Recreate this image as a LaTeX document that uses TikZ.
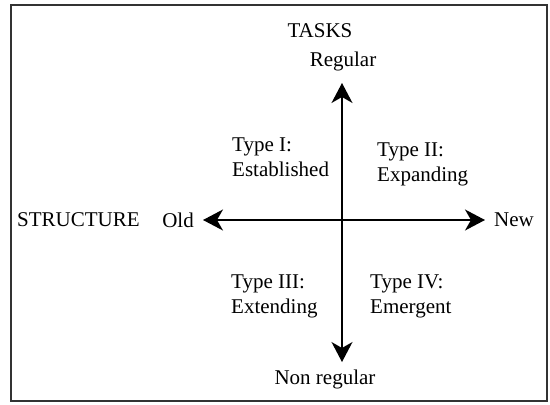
\documentclass[tikz,border=0pt]{standalone}
\usepackage{fontspec}
\setmainfont{Liberation Serif}
\usetikzlibrary{arrows.meta}

\begin{document}
\begin{tikzpicture}[x=1pt, y=-1pt, font=\fontsize{21}{25}\selectfont,
    every node/.style={inner sep=0pt},
    axis/.style={line width=1.4pt, {Stealth[length=20pt,width=21pt,inset=6pt]}-{Stealth[length=20pt,width=21pt,inset=6pt]}},
    quad/.style={anchor=west, align=left}]
            \useasboundingbox (0,0) rectangle (550,405);
            % frame
            \draw[line width=1.6pt, black!80] (11,5) rectangle (547,401);
            % axis labels
            \node (tasks) at (320,31) {TASKS};
            \node (reg) at (343,61) {Regular};
            \node (nonreg) at (325,379) {Non regular};
            \node[anchor=west] (struct) at (17,220) {STRUCTURE};
            \node (old) at (178,220) {Old};
            \node (new) at (514,220) {New};
            % arrow ends
            \coordinate (top) at (342,83);
            \coordinate (bot) at (342,362);
            \coordinate (left) at (203,220);
            \coordinate (right) at (485,220);
            \draw[axis] (top) -- (bot);
            \draw[axis] (left) -- (right);
            % quadrants
            \node[quad] (t1) at (232,157) {Type I:\\Established};
            \node[quad] (t2) at (377,164) {Type II:\\Expanding};
            \node[quad] (t3) at (231,296) {Type III:\\Extending};
            \node[quad] (t4) at (370,296) {Type IV:\\Emergent};
\end{tikzpicture}
\end{document}
